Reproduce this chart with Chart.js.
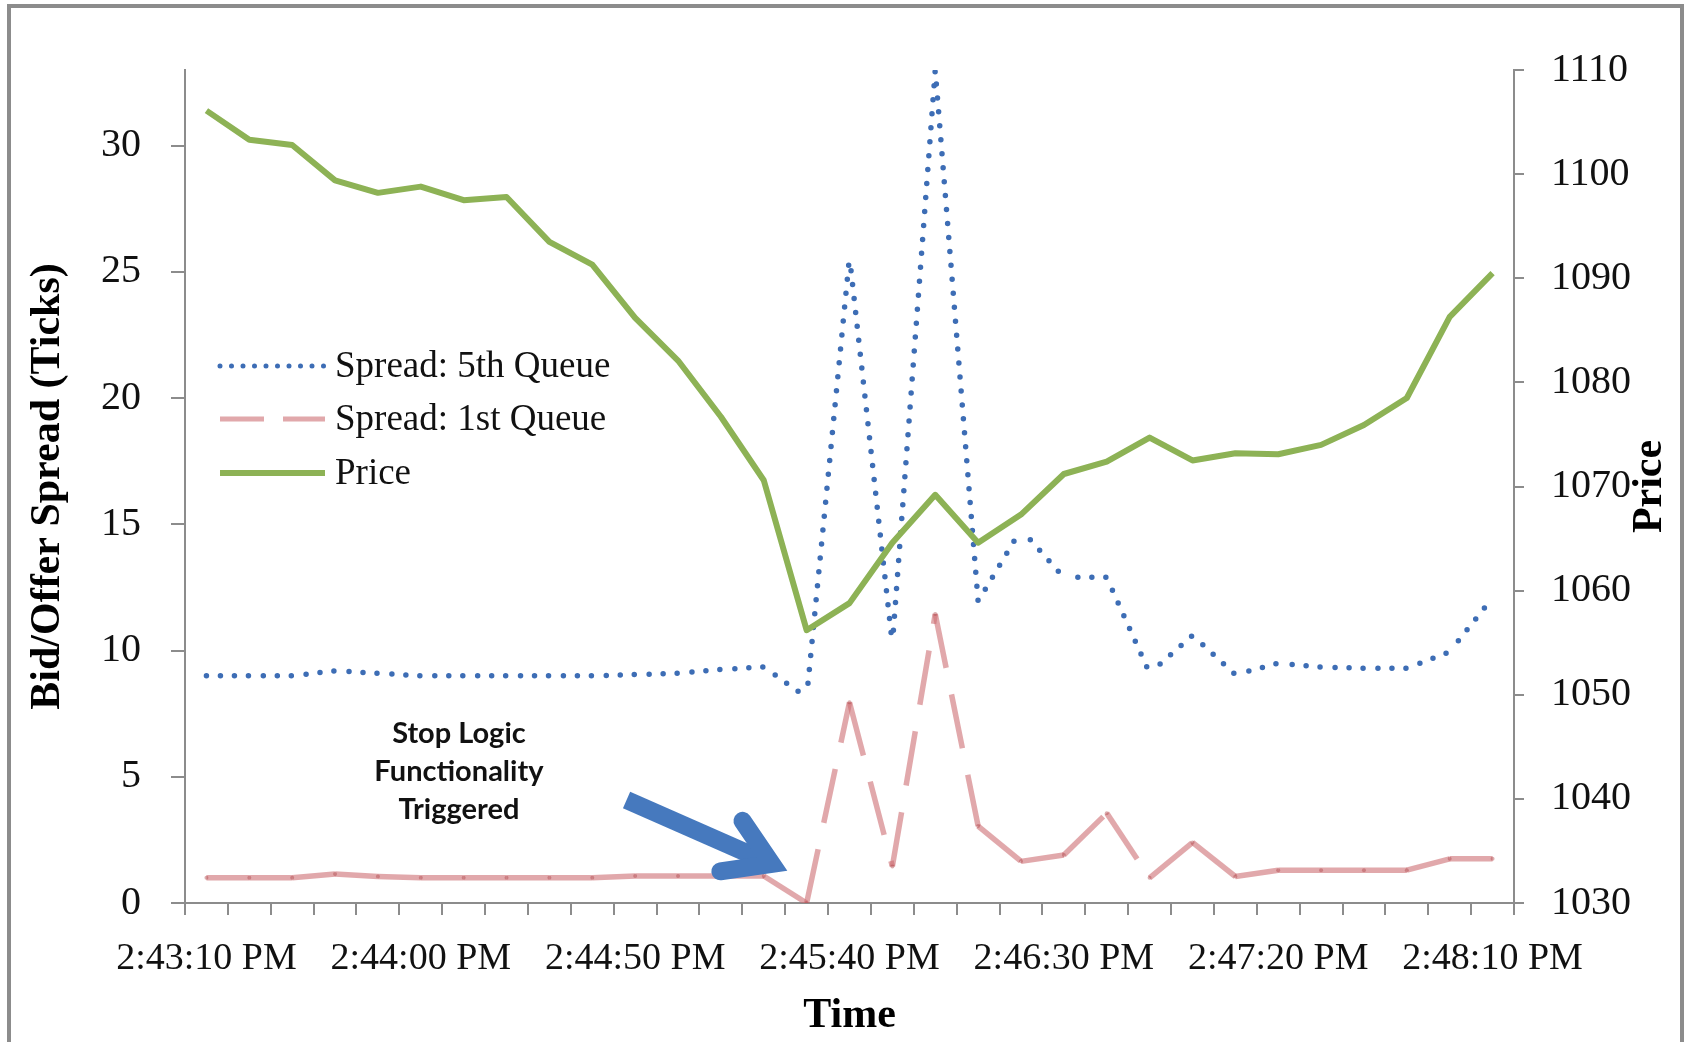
<!DOCTYPE html>
<html>
<head>
<meta charset="utf-8">
<script src="https://cdn.jsdelivr.net/npm/chart.js@4.4.1/dist/chart.umd.min.js"></script>
<style>
html,body{margin:0;padding:0;background:#fff;}
body{width:1686px;height:1042px;overflow:hidden;position:relative;}
#frame{position:absolute;left:7px;top:4px;width:1677px;height:1100px;border:4px solid #8c8c8c;box-sizing:border-box;}
#c{position:absolute;left:0;top:0;}
</style>
</head>
<body>
<div id="frame"></div>
<canvas id="c" width="1686" height="1042"></canvas>
<script>
// ---- data ----
const timeLabels = [
  "2:43:10 PM","2:43:20 PM","2:43:30 PM","2:43:40 PM","2:43:50 PM",
  "2:44:00 PM","2:44:10 PM","2:44:20 PM","2:44:30 PM","2:44:40 PM",
  "2:44:50 PM","2:45:00 PM","2:45:10 PM","2:45:20 PM","2:45:30 PM",
  "2:45:40 PM","2:45:50 PM","2:46:00 PM","2:46:10 PM","2:46:20 PM",
  "2:46:30 PM","2:46:40 PM","2:46:50 PM","2:47:00 PM","2:47:10 PM",
  "2:47:20 PM","2:47:30 PM","2:47:40 PM","2:47:50 PM","2:48:00 PM",
  "2:48:10 PM"
];
const spread5th = [9.0,9.0,9.0,9.2,9.1,9.0,9.0,9.0,9.0,9.0,9.05,9.1,9.25,9.35,8.15,25.6,10.25,33.0,11.95,14.8,12.9,12.9,9.1,10.6,9.05,9.5,9.35,9.3,9.3,9.95,12.1];
const spread1st = [1.0,1.0,1.0,1.15,1.05,1.0,1.0,1.0,1.0,1.0,1.07,1.07,1.07,1.07,0.0,7.95,1.45,11.45,3.05,1.65,1.9,3.56,1.0,2.4,1.05,1.3,1.3,1.3,1.3,1.75,1.75];
const price = [1106.1,1103.3,1102.8,1099.4,1098.2,1098.8,1097.5,1097.8,1093.5,1091.3,1086.2,1082.1,1076.7,1070.6,1056.2,1058.8,1064.6,1069.2,1064.6,1067.3,1071.2,1072.4,1074.7,1072.5,1073.2,1073.1,1074.0,1075.9,1078.5,1086.3,1090.5];
const seriesNames = ["Spread: 5th Queue","Spread: 1st Queue","Price"];
const spreadRange = [0, 33];
const priceRange = [1030, 1110];
const annotationLines = ["Stop Logic","Functionality","Triggered"];

const BLUE = '#3d6db5';
const PINK = 'rgba(205,110,115,0.6)';
const GREEN = '#8db255';
const AXIS = '#8c8c8c';
const SERIF = '"Liberation Serif", "Times New Roman", serif';

const overlay = {
  id: 'overlay',
  afterDatasetsDraw(chart) {
    const ctx = chart.ctx;
    const xs = chart.scales.x, ys = chart.scales.y;
    const px = v => xs.getPixelForValue(v);
    const py = v => ys.getPixelForValue(v);
    // annotation text
    ctx.save();
    ctx.fillStyle = '#111';
    ctx.font = 'bold 29px Lato, "DejaVu Sans", sans-serif';
    ctx.textAlign = 'center';
    ctx.textBaseline = 'middle';
    const tx = px(5.89);
    [6.7, 5.2, 3.7].forEach((v, i) => ctx.fillText(annotationLines[i], tx, py(v)));
    // arrow
    const T = {x: px(13.55), y: py(1.28)};
    const S = {x: px(9.8), y: py(4.08)};
    let dx = T.x - S.x, dy = T.y - S.y;
    const L = Math.hypot(dx, dy); dx /= L; dy /= L;
    const V = {x: T.x - 17 * dx, y: T.y - 17 * dy};
    const ang = 32 * Math.PI / 180, wl = 52;
    const bx = -dx, by = -dy;
    const w1 = {x: V.x + wl * (bx * Math.cos(ang) - by * Math.sin(ang)), y: V.y + wl * (bx * Math.sin(ang) + by * Math.cos(ang))};
    const w2 = {x: V.x + wl * (bx * Math.cos(-ang) - by * Math.sin(-ang)), y: V.y + wl * (bx * Math.sin(-ang) + by * Math.cos(-ang))};
    ctx.strokeStyle = '#4679be';
    ctx.lineWidth = 18;
    ctx.lineCap = 'butt';
    ctx.beginPath(); ctx.moveTo(S.x, S.y); ctx.lineTo(V.x - 6 * dx, V.y - 6 * dy); ctx.stroke();
    ctx.lineCap = 'round'; ctx.lineJoin = 'miter'; ctx.miterLimit = 10;
    ctx.beginPath(); ctx.moveTo(w1.x, w1.y); ctx.lineTo(V.x, V.y); ctx.lineTo(w2.x, w2.y); ctx.stroke();
    ctx.restore();
  },
  afterDraw(chart) {
    const ctx = chart.ctx, a = chart.chartArea;
    ctx.save();
    // legend
    const x0 = a.left + 35, x1 = a.left + 140, tx = a.left + 150;
    const rows = [a.top + 296, a.top + 349, a.top + 403];
    const styles = [
      {c: BLUE, w: 5, d: [0, 11.5], cap: 'round'},
      {c: PINK, w: 5, d: [44, 19], cap: 'butt'},
      {c: GREEN, w: 6, d: [], cap: 'butt'}
    ];
    rows.forEach((y, i) => {
      const s = styles[i];
      ctx.strokeStyle = s.c; ctx.lineWidth = s.w; ctx.setLineDash(s.d); ctx.lineCap = s.cap;
      ctx.beginPath(); ctx.moveTo(x0, y); ctx.lineTo(x1, y); ctx.stroke();
      ctx.setLineDash([]);
      ctx.fillStyle = '#111';
      ctx.font = '37px ' + SERIF;
      ctx.textAlign = 'left'; ctx.textBaseline = 'middle';
      ctx.fillText(seriesNames[i], tx, y + 1);
    });
    // right axis title (reads bottom-to-top)
    ctx.translate(a.right + 136, (a.top + a.bottom) / 2);
    ctx.rotate(-Math.PI / 2);
    ctx.font = 'bold 42px ' + SERIF;
    ctx.fillStyle = '#000';
    ctx.textAlign = 'center'; ctx.textBaseline = 'middle';
    ctx.fillText('Price', 0, 0);
    ctx.restore();
  }
};

const restartDash = { borderDashOffset: c => c.p0DataIndex * 1e-4 };

new Chart(document.getElementById('c'), {
  type: 'line',
  data: {
    labels: timeLabels,
    datasets: [
      {label: seriesNames[0], data: spread5th, yAxisID: 'y', borderColor: BLUE, borderWidth: 5.5,
       borderDash: [0, 14], borderCapStyle: 'round', pointRadius: 0, order: 1, segment: restartDash, fill: false},
      {label: seriesNames[1], data: spread1st, yAxisID: 'y', borderColor: PINK, borderWidth: 5.5,
       borderDash: [55, 27], borderCapStyle: 'butt', pointRadius: 2, pointBorderWidth: 0,
       pointBackgroundColor: 'rgba(175,70,75,0.45)', order: 2, segment: restartDash, fill: false},
      {label: seriesNames[2], data: price, yAxisID: 'y1', borderColor: GREEN, borderWidth: 6,
       borderJoinStyle: 'round', pointRadius: 0, order: 0, fill: false}
    ]
  },
  options: {
    responsive: false,
    animation: false,
    devicePixelRatio: 1,
    events: [],
    layout: {padding: {top: 70, left: 0, right: 0, bottom: 0}},
    plugins: {legend: {display: false}, tooltip: {enabled: false}, title: {display: false}},
    scales: {
      x: {
        type: 'category', offset: true,
        grid: {display: true, offset: true, drawOnChartArea: false, drawTicks: true, tickLength: 12, color: AXIS, lineWidth: 2},
        border: {display: true, color: AXIS, width: 2},
        ticks: {autoSkip: false, maxRotation: 0, minRotation: 0, padding: 21, color: '#111',
                font: {family: SERIF, size: 38},
                callback: function(v, i) { return i % 5 === 0 ? this.getLabelForValue(v) : ''; }},
        title: {display: true, text: 'Time', color: '#000', font: {family: SERIF, size: 42, weight: 'bold'}, padding: {top: 0, bottom: 1}},
        afterFit: s => { s.height = 139; }
      },
      y: {
        position: 'left', min: spreadRange[0], max: spreadRange[1],
        grid: {display: true, drawOnChartArea: false, tickLength: 14, color: AXIS, lineWidth: 2},
        border: {display: true, color: AXIS, width: 2},
        ticks: {stepSize: 5, includeBounds: false, padding: 30, color: '#111', font: {family: SERIF, size: 40},
                callback: v => String(v)},
        title: {display: true, text: 'Bid/Offer Spread (Ticks)', color: '#000', font: {family: SERIF, size: 42, weight: 'bold'}, padding: {top: 23, bottom: 0}},
        afterFit: s => { s.width = 185; }
      },
      y1: {
        position: 'right', min: priceRange[0], max: priceRange[1],
        grid: {display: true, drawOnChartArea: false, tickLength: 10, color: AXIS, lineWidth: 2},
        border: {display: true, color: AXIS, width: 2},
        ticks: {stepSize: 10, padding: 27, color: '#111', font: {family: SERIF, size: 40},
                callback: v => String(v)},
        title: {display: false},
        afterFit: s => { s.width = 172; }
      }
    }
  },
  plugins: [overlay]
});
</script>
</body>
</html>
